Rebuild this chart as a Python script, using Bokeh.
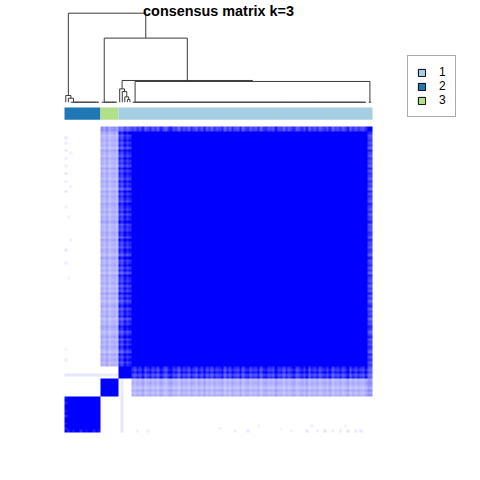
import numpy as np
from bokeh.plotting import figure
from bokeh.models import Range1d, LinearColorMapper, Legend, LegendItem
from bokeh.core.properties import value
from bokeh.embed import file_html
from bokeh.resources import INLINE

# ---------------- data ----------------
title_text = "consensus matrix k=3"
class_labels = ["1", "2", "3"]
class_colors = ["#A6CEE3", "#1F78B4", "#B2DF8A"]

# sample groups in column order (left to right)
group_names = ["c2", "c3", "s", "m", "e"]
group_class = ["2", "3", "1", "1", "1"]
group_sizes = [14, 7, 5, 92, 2]

# mean consensus between groups
block_mean = [
    [1.00, 0.00, 0.00, 0.00, 0.00],
    [0.00, 1.00, 0.00, 0.28, 0.42],
    [0.00, 0.00, 1.00, 0.78, 0.62],
    [0.00, 0.28, 0.78, 1.00, 0.75],
    [0.00, 0.42, 0.62, 0.75, 1.00],
]

# per-sample modulation of between-group consensus
mod_c2 = [1.00, 1.00, 1.00, 1.00, 1.00, 1.00, 1.00, 1.00, 1.00, 1.00, 1.00, 1.00, 1.00, 1.00]
mod_c3 = [1.10, 0.92, 1.18, 0.85, 1.02, 1.12, 0.95]
mod_s = [1.05, 0.90, 1.15, 0.98, 1.10]
mod_m = [1.05, 0.92, 1.12, 0.98, 1.20, 0.86, 1.02, 1.15, 0.94, 1.08,
         0.90, 1.18, 1.00, 0.88, 1.10, 1.22, 0.96, 1.04, 0.84, 1.14,
         0.99, 1.07, 0.91, 1.17, 1.01, 0.87, 1.11, 0.95, 1.24, 0.93,
         1.06, 0.89, 1.13, 0.97, 1.03, 1.19, 0.85, 1.09, 0.92, 1.16,
         1.00, 0.94, 1.21, 0.88, 1.05, 1.12, 0.90, 1.02, 0.97, 1.18,
         0.86, 1.08, 1.14, 0.95, 1.01, 0.91, 1.23, 0.99, 1.06, 0.87,
         1.10, 0.93, 1.04, 1.17, 0.89, 1.00, 1.13, 0.96, 1.20, 0.84,
         1.07, 0.98, 1.15, 0.90, 1.03, 1.11, 0.94, 1.19, 0.88, 1.05,
         0.97, 1.14, 0.92, 1.02, 1.22, 0.86, 1.09, 0.95, 1.12, 1.00,
         0.91, 1.16]
mod_e = [1.00, 0.95]

# first class-2 sample vs the other class-2 samples
c2_first = [1.00, 0.86, 1.00, 0.90, 1.00, 1.00, 0.85, 1.00, 0.92, 1.00, 1.00, 0.88, 1.00, 0.93]

# sparse faint consensus values (sample a, sample b, value)
faint_a = [0, 0, 0, 0, 0, 0, 0, 0, 0, 0, 0, 0, 0, 2, 2, 2, 1, 1,
           22, 22, 22, 22, 22, 22, 22, 22, 22, 22, 22, 22, 22, 22,
           22, 22, 22, 22, 22, 22, 22]
faint_b = [28, 32, 66, 71, 88, 94, 98, 101, 104, 107, 110, 113, 115, 75, 96, 109, 60, 84,
           0, 1, 2, 3, 4, 5, 6, 7, 8, 9, 10, 11, 12, 13,
           14, 15, 16, 17, 18, 19, 20]
faint_v = [0.08, 0.06, 0.07, 0.09, 0.06, 0.10, 0.08, 0.12, 0.07, 0.09, 0.11, 0.08, 0.10, 0.06, 0.07, 0.06, 0.06, 0.07,
           0.10, 0.10, 0.10, 0.10, 0.10, 0.10, 0.10, 0.10, 0.10, 0.10, 0.10, 0.10, 0.10, 0.10,
           0.08, 0.08, 0.08, 0.08, 0.08, 0.08, 0.08]

# dendrogram merge heights (relative to root)
h_c2 = [0.075, 0.045]
h_s = [0.15, 0.12, 0.06, 0.03]
h_top = {"C": 0.233, "B": 0.244, "A": 0.72, "root": 1.0}

# ---------------- consensus matrix ----------------
N = sum(group_sizes)
gid = np.repeat(np.arange(len(group_sizes)), group_sizes)
mods = np.array(mod_c2 + mod_c3 + mod_s + mod_m + mod_e)
B = np.array(block_mean)[gid[:, None], gid[None, :]]
M = B * mods[:, None] * mods[None, :]
same = gid[:, None] == gid[None, :]
M[same] = B[same]
M = np.clip(M, 0, 1)
M[0, :group_sizes[0]] = c2_first
M[:group_sizes[0], 0] = c2_first
for a, b, v in zip(faint_a, faint_b, faint_v):
    M[a, b] = v
    M[b, a] = v

# white -> blue palette
palette = ["#%02x%02x%02x" % (int(round(255 * (1 - t))), int(round(255 * (1 - t))), 255)
           for t in np.linspace(0, 1, 256)]

# ---------------- layout (pixels) ----------------
W = H = 480
PX_L, PX_R, PX_T, PX_B = 64, 372, 126, 432
ux = N / (PX_R - PX_L)
uy = N / (PX_B - PX_T)

def ypx(py):
    return N + (PX_T - py) * uy

p = figure(width=W, height=H, output_backend="svg", toolbar_location=None,
           x_range=Range1d(-PX_L * ux, (W - PX_L) * ux),
           y_range=Range1d(-(H - PX_B) * uy, N + PX_T * uy),
           x_axis_location=None, y_axis_location=None, min_border=0)
p.grid.visible = False
p.outline_line_color = None
p.background_fill_color = "white"
p.border_fill_color = "white"

# heatmap (sample 0 at bottom row / left column)
mapper = LinearColorMapper(palette=palette, low=0, high=1)
p.image(image=[M], x=0, y=0, dw=N, dh=N, color_mapper=mapper)

# annotation bar: one quad per run of equal class
sample_class = list(np.repeat(group_class, group_sizes))
col_of = dict(zip(class_labels, class_colors))
bar_y0, bar_y1 = ypx(119.3), ypx(107)
run_l, run_r, run_c = [], [], []
for j, c in enumerate(sample_class):
    if run_c and run_c[-1] == c:
        run_r[-1] = j + 1
    else:
        run_l.append(j); run_r.append(j + 1); run_c.append(c)

# legend renderers (hidden under the bar; only their legend glyphs show)
leg_r = []
for lab, colr in zip(class_labels, class_colors):
    xs = [(l + r) / 2 for l, r, c in zip(run_l, run_r, run_c) if c == lab]
    leg_r.append(p.rect(x=xs, y=(bar_y0 + bar_y1) / 2, width=0.2, height=(bar_y1 - bar_y0) * 0.2,
                        fill_color=colr, line_color="black", line_width=1, level="underlay"))

p.quad(left=run_l, right=run_r, bottom=bar_y0, top=bar_y1,
       fill_color=[col_of[c] for c in run_c], line_color=None)

# dendrogram
def chain(leaves):
    if len(leaves) == 1:
        return leaves[0]
    return (0.0, leaves[0], chain(leaves[1:]))

starts = np.cumsum([0] + group_sizes)
g = {n: list(range(int(starts[i]), int(starts[i + 1]))) for i, n in enumerate(group_names)}
t_c2 = (h_c2[0], g["c2"][0], (h_c2[1], g["c2"][1], chain(g["c2"][2:])))
t_c3 = chain(g["c3"])
sl = g["s"]
t_s = (h_s[0], sl[0], (h_s[1], sl[1], (h_s[2], sl[2], (h_s[3], sl[3], sl[4]))))
t_m = chain(g["m"])
t_e = chain(g["e"])
t_C = (h_top["C"], t_m, t_e)
t_B = (h_top["B"], t_s, t_C)
t_A = (h_top["A"], t_c3, t_B)
tree = (h_top["root"], t_c2, t_A)

base_y, top_y = ypx(101.7), ypx(12.7)
sx0, sy0, sx1, sy1 = [], [], [], []

def Y(v):
    return base_y + v * (top_y - base_y)

def walk(node):
    if isinstance(node, (int, np.integer)):
        return node + 0.5, 0.0
    h, l, r = node
    xl, hl = walk(l)
    xr, hr = walk(r)
    sx0.extend([xl, xr, xl]); sy0.extend([Y(hl), Y(hr), Y(h)])
    sx1.extend([xl, xr, xr]); sy1.extend([Y(h), Y(h), Y(h)])
    return (xl + xr) / 2, h

walk(tree)
p.segment(x0=sx0, y0=sy0, x1=sx1, y1=sy1, line_color="#3a3a3a", line_width=1)

# title
p.text(x=[N / 2], y=[ypx(10)], text=[title_text], text_align="center", text_baseline="alphabetic",
       text_font=value("Liberation Sans"), text_font_style="bold", text_font_size="14.4px",
       text_color="black")

# legend
legend = Legend(items=[LegendItem(label=l, renderers=[r]) for l, r in zip(class_labels, leg_r)],
                location=(407, H - 117), orientation="vertical",
                glyph_width=9, glyph_height=9, label_height=9, label_width=0, spacing=0, padding=9,
                margin=0, label_standoff=13, border_line_color="#555555", border_line_width=1,
                label_text_font="Liberation Sans", label_text_font_size="12px", label_text_color="black",
                background_fill_color="white", background_fill_alpha=1)
p.add_layout(legend)

open("out.html", "w").write(file_html(p, INLINE))
